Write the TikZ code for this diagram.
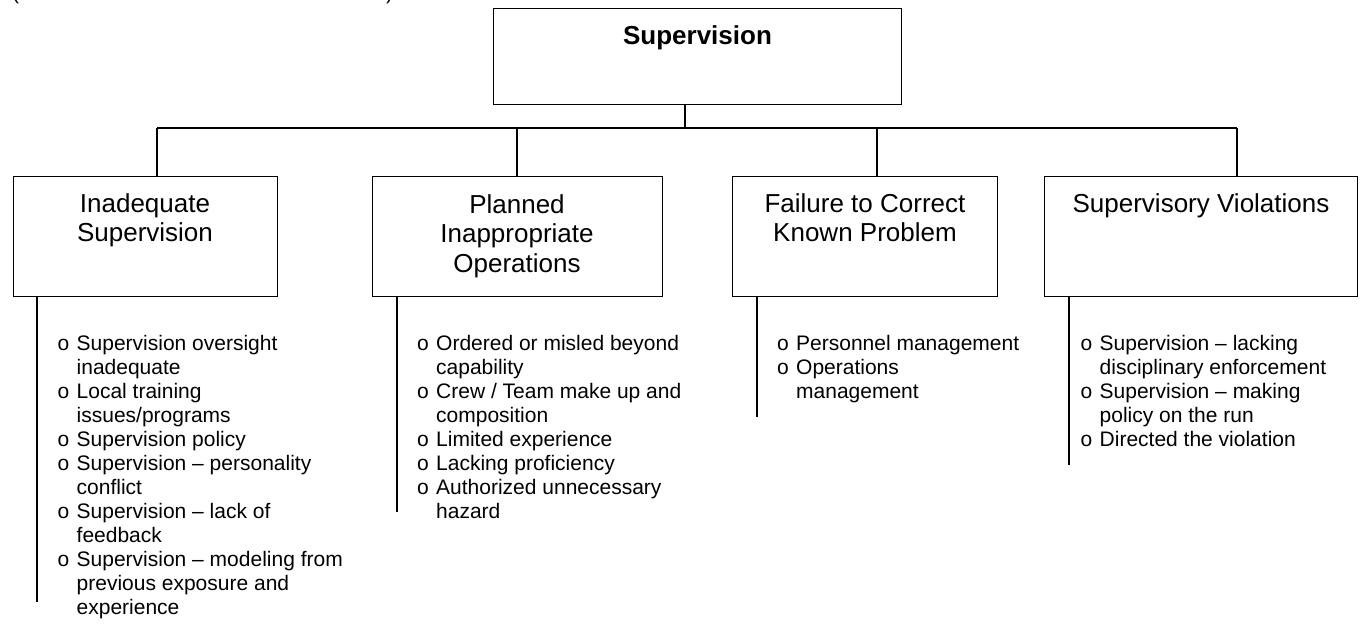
\documentclass[tikz,border=0pt]{standalone}
\usepackage{fontspec}
\setmainfont{Liberation Sans}
\newcommand\bulitem[1]{\makebox[19pt][l]{o}#1}
\newcommand\bulcont[1]{\hspace*{19pt}#1}
\begin{document}
\begin{tikzpicture}[x=1pt,y=-1pt,
  box/.style={draw,line width=1.3pt,inner sep=0pt,anchor=north west},
  ttl/.style={anchor=base,align=center,inner sep=0pt,font=\fontsize{26}{29.5}\selectfont},
  lst/.style={anchor=base west,align=left,inner sep=0pt,font=\fontsize{21}{24}\selectfont},
  con/.style={line width=1.3pt}]
\useasboundingbox (0,0) rectangle (1363,626);
% cut-off text at top edge
\node[anchor=base west,inner sep=0pt,font=\fontsize{21}{24}\selectfont] (pl) at (12,-0.5) {(};
\node[anchor=base west,inner sep=0pt,font=\fontsize{21}{24}\selectfont] (pr) at (386,-0.5) {)};
% top box
\node[box,minimum width=408pt,minimum height=96pt] (top) at (493,8) {};
\node[anchor=base,inner sep=0pt,font=\fontsize{26}{29.5}\selectfont\bfseries] (toptxt) at (697.5,45) {Supervision};
% child boxes
\node[box,minimum width=264pt,minimum height=120pt] (b1) at (13,176) {};
\node[box,minimum width=290pt,minimum height=120pt] (b2) at (372,176) {};
\node[box,minimum width=265pt,minimum height=120pt] (b3) at (732,176) {};
\node[box,minimum width=313pt,minimum height=120pt] (b4) at (1044,176) {};
\node[ttl] (t1) at (145,241.5) {Inadequate\\Supervision};
\node[ttl] (t2) at (517,272) {Planned\\Inappropriate\\Operations};
\node[ttl] (t3) at (865,241.5) {Failure to Correct\\Known Problem};
\node[ttl] (t4) at (1201,212) {Supervisory Violations};
% connectors
\coordinate (hub) at (685,128);
\coordinate (d1) at (157,128);
\coordinate (d2) at (517,128);
\coordinate (d3) at (877,128);
\coordinate (d4) at (1237,128);
\draw[con] (top.south -| hub) -- (hub);
\draw[con] (d1) -- (d4);
\draw[con] (d1) -- (d1 |- b1.north);
\draw[con] (d2) -- (d2 |- b2.north);
\draw[con] (d3) -- (d3 |- b3.north);
\draw[con] (d4) -- (d4 |- b4.north);
% side lines below boxes
\coordinate (e1) at (37,602);
\coordinate (e2) at (397,512);
\coordinate (e3) at (757,417);
\coordinate (e4) at (1069,465);
\draw[con] (b1.south -| e1) -- (e1);
\draw[con] (b2.south -| e2) -- (e2);
\draw[con] (b3.south -| e3) -- (e3);
\draw[con] (b4.south -| e4) -- (e4);
% lists
\node[lst] (l1) at (57.5,614) {\bulitem{Supervision oversight}\\\bulcont{inadequate}\\\bulitem{Local training}\\\bulcont{issues/programs}\\\bulitem{Supervision policy}\\\bulitem{Supervision – personality}\\\bulcont{conflict}\\\bulitem{Supervision – lack of}\\\bulcont{feedback}\\\bulitem{Supervision – modeling from}\\\bulcont{previous exposure and}\\\bulcont{experience}};
\node[lst] (l2) at (417,518) {\bulitem{Ordered or misled beyond}\\\bulcont{capability}\\\bulitem{Crew / Team make up and}\\\bulcont{composition}\\\bulitem{Limited experience}\\\bulitem{Lacking proficiency}\\\bulitem{Authorized unnecessary}\\\bulcont{hazard}};
\node[lst] (l3) at (777,398) {\bulitem{Personnel management}\\\bulitem{Operations}\\\bulcont{management}};
\node[lst] (l4) at (1080.5,446) {\bulitem{Supervision – lacking}\\\bulcont{disciplinary enforcement}\\\bulitem{Supervision – making}\\\bulcont{policy on the run}\\\bulitem{Directed the violation}};
\end{tikzpicture}
\end{document}
